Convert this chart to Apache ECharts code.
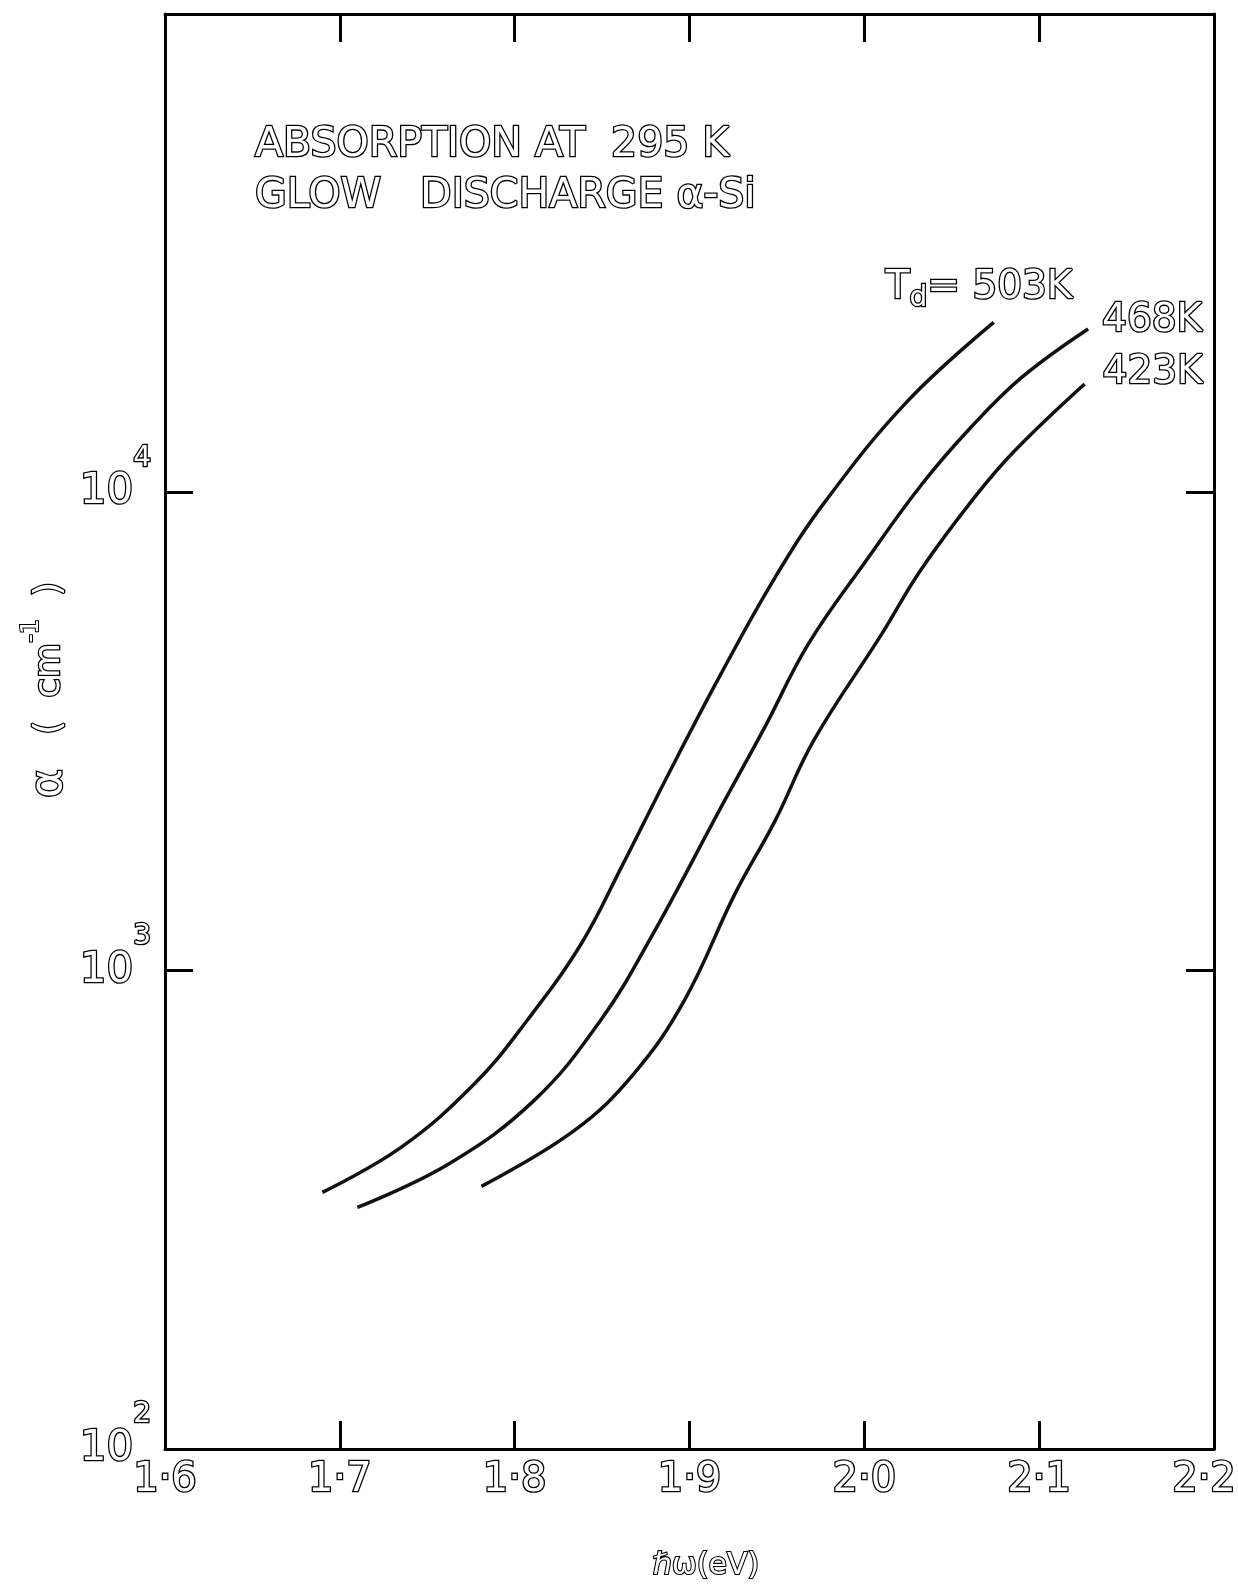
<!DOCTYPE html>
<html>
<head>
<meta charset="utf-8">
<style>
html, body { margin: 0; padding: 0; background: #fff; overflow: hidden; }
#main { width: 1238px; height: 1584px; }
</style>
<script src="https://cdn.jsdelivr.net/npm/echarts@6/dist/echarts.min.js"></script>
</head>
<body>
<div id="main"></div>
<script>
// photon energy (eV) and absorption coefficient (cm^-1)
var x503 = [1.690, 1.735, 1.777, 1.807, 1.838, 1.861, 1.888, 1.918, 1.949, 1.978, 2.025, 2.074];
var y503 = [344, 427, 580, 786, 1137, 1644, 2578, 4173, 6643, 9608, 15550, 22670];

var x468 = [1.710, 1.762, 1.811, 1.849, 1.878, 1.918, 1.943, 1.968, 2.001, 2.033, 2.061, 2.090, 2.128];
var y468 = [320, 394, 535, 786, 1174, 2195, 3226, 4820, 7197, 10410, 13680, 17390, 21960];

var x423 = [1.781, 1.834, 1.868, 1.897, 1.926, 1.949, 1.971, 2.010, 2.032, 2.063, 2.086, 2.126];
var y423 = [354, 463, 608, 866, 1447, 2059, 3026, 5058, 6859, 9761, 12220, 16850];

var seriesNames = ['503K', '468K', '423K'];
var xTickLabels = ['1·6', '1·7', '1·8', '1·9', '2·0', '2·1', '2·2'];
var yTickExps = ['2', '3', '4'];

var dom = document.getElementById('main');
var myChart = echarts.init(dom, null, { renderer: 'canvas' });

function pairs(xs, ys) {
    return xs.map(function (x, i) { return [x, ys[i]]; });
}

// hollow lettering like the stencil in the original
var ink = {
    color: '#fff',
    textBorderColor: '#000',
    textBorderWidth: 2.6,
    fontFamily: 'DejaVu Sans'
};

function hollow(size, extra) {
    return Object.assign({
        fontSize: size,
        fontFamily: 'DejaVu Sans',
        fill: '#fff',
        stroke: '#000',
        lineWidth: 2.6
    }, extra || {});
}

var frameLine = { show: true, lineStyle: { color: '#000', width: 3 } };
var frameTick = { show: true, inside: true, length: 28, lineStyle: { color: '#000', width: 3 } };

function curve(name, data, label) {
    return {
        name: name,
        type: 'line',
        data: data,
        smooth: 0.4,
        showSymbol: false,
        lineStyle: { color: '#111', width: 3.5 },
        endLabel: label
    };
}

var option = {
    animation: false,
    backgroundColor: '#fff',
    // keep the frame where it is even though the 2·2 label runs to the edge
    grid: { left: 165, right: 24, top: 14, bottom: 135, outerBoundsMode: 'none' },
    xAxis: [
        {
            type: 'value',
            min: 1.6,
            max: 2.2,
            interval: 0.1,
            axisLine: frameLine,
            axisTick: frameTick,
            splitLine: { show: false },
            axisLabel: {
                margin: 12,
                formatter: function (v) {
                    var i = Math.round(v * 10) - 16;
                    var s = xTickLabels[i] || '';
                    // last label sits a little inside the corner, as drawn
                    return i === xTickLabels.length - 1 ? '{e|' + s + '}' : '{n|' + s + '}';
                },
                rich: {
                    n: Object.assign({ fontSize: 40 }, ink),
                    e: Object.assign({ fontSize: 40, padding: [0, 20, 0, 0] }, ink)
                }
            }
        },
        {
            type: 'value',
            position: 'top',
            min: 1.6,
            max: 2.2,
            interval: 0.1,
            axisLine: frameLine,
            axisTick: frameTick,
            splitLine: { show: false },
            axisLabel: { show: false }
        }
    ],
    yAxis: [
        {
            type: 'log',
            logBase: 10,
            min: 100,
            max: 100000,
            axisLine: frameLine,
            axisTick: frameTick,
            minorTick: { show: false },
            splitLine: { show: false },
            axisLabel: {
                margin: 14,
                formatter: function (v) {
                    var e = Math.round(Math.log10(v));
                    var s = yTickExps[e - 2];
                    return s ? '{b|10}{s|' + s + '}' : '';
                },
                rich: {
                    b: Object.assign({ fontSize: 42, lineHeight: 96 }, ink),
                    s: Object.assign({ fontSize: 28, lineHeight: 26, verticalAlign: 'top' }, ink)
                }
            }
        },
        {
            type: 'log',
            logBase: 10,
            min: 100,
            max: 100000,
            position: 'right',
            axisLine: frameLine,
            axisTick: frameTick,
            minorTick: { show: false },
            splitLine: { show: false },
            axisLabel: { show: false }
        }
    ],
    graphic: [
        {
            type: 'text',
            x: 255,
            y: 145,
            style: hollow(41, { text: 'ABSORPTION AT  295 K', verticalAlign: 'middle' })
        },
        {
            type: 'text',
            x: 255,
            y: 196,
            style: hollow(41, { text: 'GLOW   DISCHARGE α-Si', verticalAlign: 'middle' })
        },
        {
            type: 'text',
            x: 50,
            y: 690,
            rotation: Math.PI / 2,
            style: {
                text: '{a|α}{c|   (  cm}{s|-1}{c|  )}',
                align: 'center',
                verticalAlign: 'middle',
                rich: {
                    a: hollow(44, { lineHeight: 60 }),
                    c: hollow(36, { lineHeight: 60 }),
                    s: hollow(24, { lineHeight: 22, verticalAlign: 'top', lineWidth: 2 })
                }
            }
        },
        {
            type: 'text',
            x: 706,
            y: 1566,
            style: hollow(30, { text: 'ℏω(eV)', align: 'center', verticalAlign: 'middle', lineWidth: 2.2 })
        }
    ],
    series: [
        curve(seriesNames[0], pairs(x503, y503), {
            show: true,
            offset: [-116, -34],
            formatter: '{m|T}{d|d}{m|= 503K}',
            rich: {
                m: Object.assign({ fontSize: 39, lineHeight: 48 }, ink),
                d: Object.assign({ fontSize: 28, lineHeight: 20, verticalAlign: 'bottom' }, ink)
            }
        }),
        curve(seriesNames[1], pairs(x468, y468), Object.assign({
            show: true,
            offset: [6, -8],
            fontSize: 39,
            formatter: '468K'
        }, ink)),
        curve(seriesNames[2], pairs(x423, y423), Object.assign({
            show: true,
            offset: [10, -11],
            fontSize: 39,
            formatter: '423K'
        }, ink))
    ]
};

if (option && typeof option === 'object') {
    myChart.setOption(option);
}

window.addEventListener('resize', myChart.resize);
</script>
</body>
</html>
